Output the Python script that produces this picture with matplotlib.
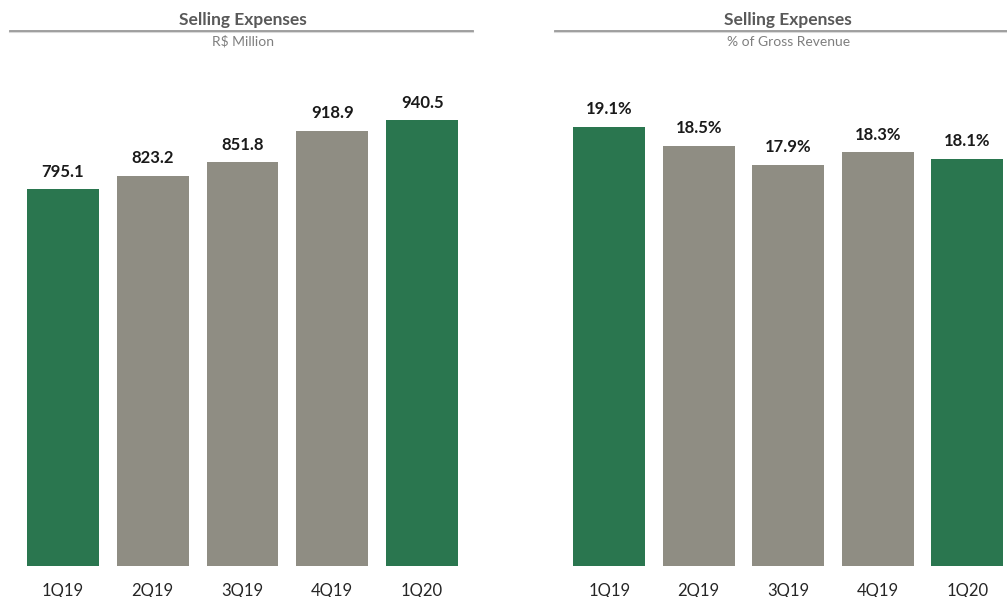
import matplotlib.pyplot as plt
from matplotlib.lines import Line2D

plt.rcParams['font.family'] = ['Lato', 'DejaVu Sans']

quarters = ['1Q19', '2Q19', '3Q19', '4Q19', '1Q20']
expenses_brl = [795.1, 823.2, 851.8, 918.9, 940.5]
expenses_pct = [19.1, 18.5, 17.9, 18.3, 18.1]
pct_labels = ['19.1%', '18.5%', '17.9%', '18.3%', '18.1%']

GREEN = '#2a764f'
GRAY = '#8f8d83'
bar_colors = [GREEN, GRAY, GRAY, GRAY, GREEN]


def draw_panel(fig, rect, values, labels, ylim, title, subtitle, line_x):
    ax = fig.add_axes(rect)
    x = range(len(quarters))
    bars = ax.bar(x, values, width=0.8, color=bar_colors)
    for bar, lab in zip(bars, labels):
        ax.annotate(lab, (bar.get_x() + bar.get_width() / 2, bar.get_height()),
                    xytext=(0, 7), textcoords='offset points',
                    ha='center', va='bottom', fontsize=12, fontweight='bold',
                    color='#1a1a1a')
    ax.set_xlim(-0.5, len(quarters) - 0.5)
    ax.set_ylim(*ylim)
    ax.set_xticks(list(x))
    ax.set_xticklabels(quarters, fontsize=12, color='#262626')
    ax.tick_params(axis='x', length=0, pad=12)
    ax.set_yticks([])
    for s in ax.spines.values():
        s.set_visible(False)

    # heading with rule underneath
    cx = rect[0] + rect[2] / 2
    fig.text(cx, 1 - 20 / 597, title, ha='center', va='center',
             fontsize=12.5, fontweight='bold', color='#595959')
    fig.text(cx, 1 - 41.5 / 597, subtitle, ha='center', va='center',
             fontsize=10, color='#7f7f7f')
    y_rule = 1 - 30.5 / 597
    fig.add_artist(Line2D([line_x[0] / 1007, line_x[1] / 1007],
                          [y_rule - 0.002, y_rule - 0.002],
                          color='#d9d9d9', lw=1.5))
    fig.add_artist(Line2D([line_x[0] / 1007, line_x[1] / 1007],
                          [y_rule, y_rule], color='#999999', lw=1.3))
    return ax


fig = plt.figure(figsize=(10.07, 5.97), dpi=100)
bottom = 1 - 566 / 597
height = 506 / 597

draw_panel(fig, [18 / 1007, bottom, 449 / 1007, height],
           expenses_brl, [f'{v:.1f}' for v in expenses_brl], (0, 1068),
           'Selling Expenses', 'R$ Million', (10, 473))
draw_panel(fig, [564.5 / 1007, bottom, 447.5 / 1007, height],
           expenses_pct, pct_labels, (5.24, 21.22),
           'Selling Expenses', '% of Gross Revenue', (555, 1007))

fig.savefig('out.png', dpi=100)
